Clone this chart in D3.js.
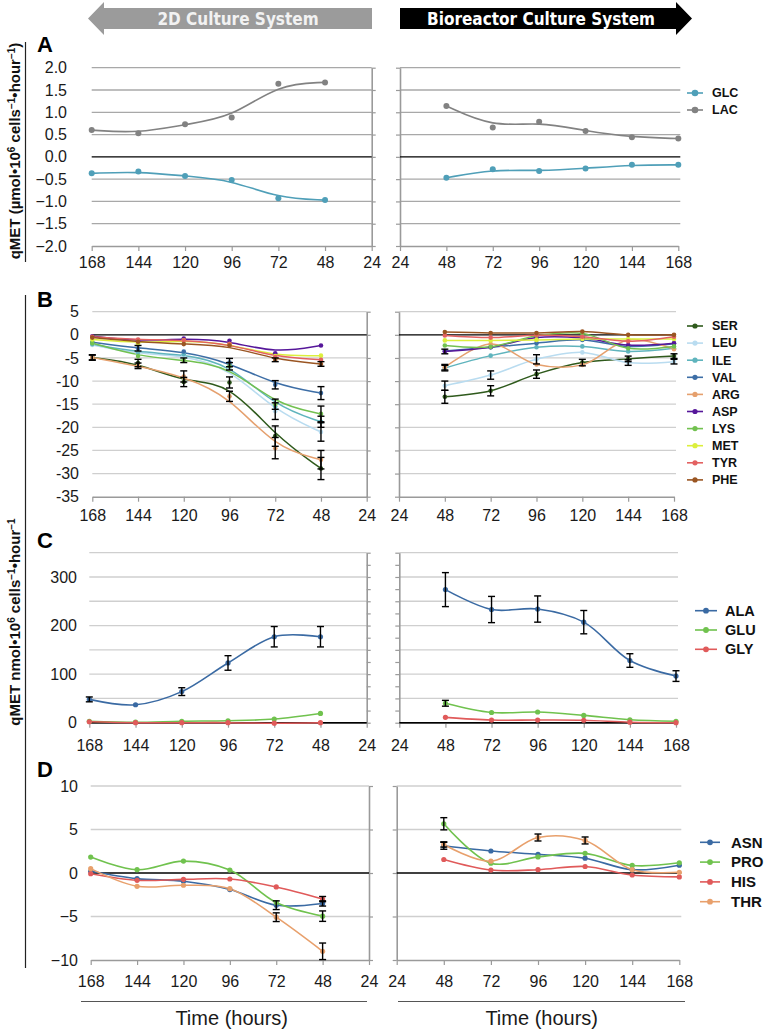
<!DOCTYPE html>
<html><head><meta charset="utf-8">
<script src="https://cdn.jsdelivr.net/npm/d3@7"></script>
<style>body{margin:0;background:#fff}svg{display:block}</style>
</head><body><svg id="c" width="766" height="1033"></svg>
<script>
// ---------- DATA ----------
const hoursL = [168, 144, 120, 96, 72, 48];   // 2D culture (left panels)
const hoursR = [48, 72, 96, 120, 144, 168];   // bioreactor (right panels)
const xTicks = [24, 48, 72, 96, 120, 144, 168];

// Panel A (µmol)
const aNames = ['GLC', 'LAC'];
const aColors = ['#4f9fb8', '#828282'];
const glcL = [-0.37, -0.33, -0.43, -0.52, -0.93, -0.97];
const glcR = [-0.47, -0.28, -0.32, -0.26, -0.18, -0.18];
const lacL = [0.60, 0.53, 0.73, 0.88, 1.64, 1.67];
const lacR = [1.14, 0.66, 0.79, 0.58, 0.44, 0.41];
const aTicks = [-2, -1.5, -1, -0.5, 0, 0.5, 1, 1.5, 2];

// Panel B (nmol)
const bNames = ['SER', 'LEU', 'ILE', 'VAL', 'ARG', 'ASP', 'LYS', 'MET', 'TYR', 'PHE'];
const bColors = ['#2f5a1c', '#b9dcf0', '#5fb4bd', '#3d6ea6', '#e5a06e', '#56179a', '#72c150', '#dcef3c', '#e36161', '#9a5522'];
const serL = [-4.9, -6.1, -10.2, -10.3, -21.9, -28.9];
const leuL = [-2.2, -4.2, -4.4, -7.2, -16.5, -21.0];
const ileL = [-2.0, -3.8, -4.2, -6.3, -15.5, -18.8];
const valL = [-1.6, -2.9, -3.6, -6.0, -10.8, -12.6];
const argL = [-4.9, -6.7, -9.0, -13.3, -24.5, -27.0];
const aspL = [-0.3, -1.4, -0.8, -1.3, -4.0, -2.3];
const lysL = [-1.8, -4.6, -5.5, -6.8, -15.0, -17.1];
const metL = [-1.0, -1.8, -1.2, -2.0, -4.6, -4.5];
const tyrL = [-0.4, -1.0, -1.2, -2.0, -4.8, -5.4];
const pheL = [-0.6, -1.5, -2.0, -2.3, -5.4, -6.3];
const serR = [-13.4, -12.1, -8.5, -6.0, -5.2, -4.6];
const leuR = [-11.0, -8.7, -5.3, -3.8, -6.0, -5.8];
const ileR = [-7.2, -4.5, -2.7, -2.5, -3.6, -2.9];
const valR = [-3.5, -2.7, -1.8, -1.1, -2.5, -1.95];
const argR = [-7.0, -2.0, -6.4, -6.5, -1.1, -3.1];
const aspR = [-3.6, -2.7, -0.6, -0.7, -2.2, -1.8];
const lysR = [-2.3, -2.6, -0.2, 0.3, -2.9, -2.5];
const metR = [-1.2, -1.2, -1.1, -0.9, -0.9, -0.9];
const tyrR = [-0.15, -0.6, -0.1, -0.4, -1.4, -0.4];
const pheR = [0.6, 0.4, 0.4, 0.7, 0.0, 0.0];
const serEL = [0.6, 0.8, 1.0, 1.2, 2.2, 2.4];
const leuEL = [0, 0, 0, 0, 1.8, 2.0];
const ileEL = [0, 0, 0, 0, 0, 1.2];
const valEL = [0, 0.6, 0, 0.9, 0.9, 1.4];
const argEL = [0.5, 0.6, 1.2, 1.1, 2.3, 2.0];
const lysEL = [0, 0, 0.5, 0.8, 1.1, 1.7];
const pheEL = [0, 0, 0, 0, 0.4, 0.5];
const serER = [1.4, 1.1, 0.9, 0.7, 0.6, 0.5];
const leuER = [1.0, 0.9, 1.0, 0, 0.6, 0.5];
const ileER = [0.6, 0, 0, 0, 0, 0];
const argER = [0.6, 0, 0, 0, 0, 0];
const aspER = [0.5, 0, 0, 0, 0, 0];
const bTicks = [-35, -30, -25, -20, -15, -10, -5, 0, 5];

// Panel C (nmol)
const cNames = ['ALA', 'GLU', 'GLY'];
const cColors = ['#3a6aa3', '#70c24e', '#e05a5a'];
const alaL = [48, 37, 64, 123, 177, 177];
const gluL = [3, 1, 3, 4, 7.5, 19];
const glyL = [2, 0, 0, 0, -1, 0];
const alaR = [274, 233, 234, 207, 128, 96];
const gluR = [40, 21, 22, 15, 6, 3];
const glyR = [11, 5.5, 5.5, 5, 1, 0];
const alaEL = [5, 0, 8, 15, 21, 21];
const alaER = [35, 27, 27, 24, 14, 11];
const gluER = [6, 0, 0, 0, 0, 0];
const cLabels = [0, 100, 200, 300];

// Panel D (nmol)
const dNames = ['ASN', 'PRO', 'HIS', 'THR'];
const dColors = ['#3a6aa3', '#70c24e', '#e05a5a', '#e8a06c'];
const asnL = [0.2, -0.65, -0.95, -1.9, -3.7, -3.5];
const proL = [1.83, 0.38, 1.37, 0.34, -3.4, -4.96];
const hisL = [-0.08, -0.84, -0.73, -0.69, -1.6, -3.0];
const thrL = [0.5, -1.53, -1.41, -1.8, -5.08, -9.0];
const asnR = [3.13, 2.53, 2.15, 1.7, 0.38, 0.9];
const proR = [5.66, 1.13, 1.85, 2.26, 0.87, 1.17];
const hisR = [1.55, 0.34, 0.38, 0.75, -0.23, -0.45];
const thrR = [3.28, 1.36, 4.08, 3.74, 0.38, 0.08];
const asnEL = [0, 0, 0, 0, 0.5, 0.3];
const proEL = [0, 0, 0, 0, 0, 0.6];
const hisEL = [0, 0, 0, 0, 0, 0.3];
const thrEL = [0, 0, 0, 0, 0.5, 0.95];
const asnER = [0.4, 0, 0, 0, 0, 0];
const proER = [0.7, 0, 0, 0, 0, 0];
const thrER = [0.3, 0, 0.4, 0.4, 0, 0];
const dTicks = [-10, -5, 0, 5, 10];

// ---------- DRAWING ----------
const svg = d3.select('#c');
const FONT = '"Liberation Sans", Arial, Helvetica, sans-serif';
const Z = Array(6).fill(0);
const smoothCurve = d3.curveCatmullRom.alpha(0.5);
const trendCurve = d3.curveBasis;

function drawPanel(p) {
  const y = d3.scaleLinear().domain(p.yDom).range([p.yBot, p.yTop]);
  const gridVals = d3.range(p.yDom[0], p.yDom[1] + 1e-9, p.grid);
  p.sides.forEach(s => {
    const left = s.dir === 'L';
    const hrs = left ? hoursL : hoursR;
    const x = d3.scaleLinear().domain(left ? [168, 24] : [24, 168]).range([s.x0, s.x1]);
    const g = svg.append('g');
    g.selectAll('line.grid').data(gridVals.filter(v => v !== 0 && v !== p.yDom[0])).join('line')
      .attr('x1', s.x0).attr('x2', s.x1 + (left ? 0 : 2))
      .attr('y1', d => y(d)).attr('y2', d => y(d))
      .attr('stroke', p.gridColor).attr('stroke-width', 1.3);
    const tv = p.minor ? d3.range(p.yDom[0], p.yDom[1] + 1e-9, p.minor) : gridVals;
    g.append('g').attr('transform', `translate(${x(24)},0)`)
      .call((left ? d3.axisRight(y) : d3.axisLeft(y)).tickValues(tv).tickSize(4).tickSizeOuter(0).tickFormat(''))
      .call(a => { a.select('.domain').attr('stroke', '#9a9a9a').attr('stroke-width', 1.6);
                   a.selectAll('.tick line').attr('stroke', '#9a9a9a').attr('stroke-width', 1.2); });
    g.append('g').attr('transform', `translate(0,${y(p.yDom[0])})`)
      .call(d3.axisBottom(x).tickValues(xTicks).tickSize(5).tickSizeOuter(0).tickPadding(p.xPad).tickFormat(d3.format('d')))
      .call(a => { a.select('.domain').attr('stroke', '#9a9a9a').attr('stroke-width', 1.6);
                   a.selectAll('.tick line').attr('stroke', '#9a9a9a').attr('stroke-width', 1.2);
                   a.selectAll('text').attr('font-size', 16).attr('font-family', FONT).attr('fill', '#1a1a1a'); });
    g.append('line').attr('x1', s.x0).attr('x2', s.x1 + (left ? 0 : 2)).attr('y1', y(0)).attr('y2', y(0))
      .attr('stroke', '#000').attr('stroke-width', 1.4);
    if (left) {
      g.append('g').attr('transform', `translate(${p.labelX},0)`)
        .call(d3.axisLeft(y).tickValues(p.labels).tickSize(0).tickPadding(0).tickFormat(p.fmt))
        .call(a => { a.select('.domain').remove();
                     a.selectAll('text').attr('font-size', 16).attr('font-family', FONT).attr('fill', '#1a1a1a'); });
    }
    const curve = (left ? p.curveL : p.curveR) || smoothCurve;
    const line = d3.line().x(d => x(d.h)).y(d => y(d.v)).curve(curve);
    const all = p.series.map(se => hrs.map((h, i) => ({ h, v: (left ? se.L : se.R)[i], e: (left ? se.eL : se.eR)[i], c: se.color })));
    all.forEach(pts => {
      g.append('path').datum(pts).attr('d', line).attr('fill', 'none')
        .attr('stroke', pts[0].c).attr('stroke-width', p.lw);
    });
    all.forEach(pts => {
      g.selectAll(null).data(pts).join('circle')
        .attr('cx', d => x(d.h)).attr('cy', d => y(d.v)).attr('r', p.r).attr('fill', d => d.c);
    });
    const eb = all.flat().filter(d => d.e > 0);
    const eg = g.selectAll(null).data(eb).join('g').attr('stroke', '#000').attr('stroke-width', 1.4);
    eg.append('line').attr('x1', d => x(d.h)).attr('x2', d => x(d.h)).attr('y1', d => y(d.v - d.e)).attr('y2', d => y(d.v + d.e));
    eg.append('line').attr('x1', d => x(d.h) - 3.5).attr('x2', d => x(d.h) + 3.5).attr('y1', d => y(d.v - d.e)).attr('y2', d => y(d.v - d.e));
    eg.append('line').attr('x1', d => x(d.h) - 3.5).attr('x2', d => x(d.h) + 3.5).attr('y1', d => y(d.v + d.e)).attr('y2', d => y(d.v + d.e));
  });
  const L = p.legend;
  const lg = svg.append('g').selectAll(null).data(p.series).join('g')
    .attr('transform', (d, i) => `translate(0,${L.y0 + i * L.dy})`);
  lg.append('line').attr('x1', L.lx0).attr('x2', L.lx1).attr('stroke', d => d.color).attr('stroke-width', 1.6);
  lg.append('circle').attr('cx', (L.lx0 + L.lx1) / 2).attr('r', p.r + 0.3).attr('fill', d => d.color);
  lg.append('text').attr('x', L.tx).attr('dy', '0.35em').attr('font-size', L.fs).attr('font-weight', 'bold')
    .attr('font-family', FONT).attr('fill', '#111').text(d => d.name);
  svg.append('text').attr('x', p.letter[1]).attr('y', p.letter[2]).attr('font-size', 22).attr('font-weight', 'bold')
    .attr('font-family', FONT).text(p.letter[0]);
}

function mk(names, colors, Ls, Rs, eLs, eRs) {
  return names.map((n, i) => ({ name: n, color: colors[i], L: Ls[i], R: Rs[i], eL: eLs[i] || Z, eR: eRs[i] || Z }));
}

drawPanel({
  yDom: [-2, 2], yTop: 67.7, yBot: 246, grid: 0.5, labels: aTicks, fmt: d3.format('.1f'),
  labelX: 67, xPad: 5.6, gridColor: '#a8a8a8', lw: 1.6, r: 3, curveL: trendCurve, curveR: trendCurve,
  sides: [{ dir: 'L', x0: 91.7, x1: 371.7 }, { dir: 'R', x0: 400, x1: 678.3 }],
  series: mk(aNames, aColors, [glcL, lacL], [glcR, lacR], [], []),
  legend: { lx0: 687, lx1: 703, tx: 712, y0: 93, dy: 17, fs: 12.5 },
  letter: ['A', 37, 52]
});
drawPanel({
  yDom: [-35, 5], yTop: 311.7, yBot: 496.7, grid: 5, labels: bTicks, fmt: d => String(d),
  labelX: 79, xPad: 8, gridColor: '#cfcfcf', lw: 1.5, r: 2.3, curveL: trendCurve,
  sides: [{ dir: 'L', x0: 92.3, x1: 366.7 }, { dir: 'R', x0: 399, x1: 674 }],
  series: mk(bNames, bColors, [serL, leuL, ileL, valL, argL, aspL, lysL, metL, tyrL, pheL],
             [serR, leuR, ileR, valR, argR, aspR, lysR, metR, tyrR, pheR],
             [serEL, leuEL, ileEL, valEL, argEL, null, lysEL, null, null, pheEL],
             [serER, leuER, ileER, null, argER, aspER]),
  legend: { lx0: 687, lx1: 703, tx: 712, y0: 326, dy: 17.1, fs: 12.5 },
  letter: ['B', 37, 307]
});
drawPanel({
  yDom: [0, 350], yTop: 552.7, yBot: 722.7, grid: 50, minor: 25, labels: cLabels, fmt: d3.format('d'),
  labelX: 77, xPad: 11.6, gridColor: '#cfcfcf', lw: 1.6, r: 2.6, curveL: d3.curveCatmullRom.alpha(0),
  sides: [{ dir: 'L', x0: 89.3, x1: 366.7 }, { dir: 'R', x0: 399.3, x1: 676 }],
  series: mk(cNames, cColors, [alaL, gluL, glyL], [alaR, gluR, glyR], [alaEL], [alaER, gluER]),
  legend: { lx0: 695, lx1: 717, tx: 725, y0: 610.7, dy: 19.3, fs: 14.5 },
  letter: ['C', 37, 548]
});
drawPanel({
  yDom: [-10, 10], yTop: 786, yBot: 960, grid: 5, labels: dTicks, fmt: d3.format('d'),
  labelX: 78, xPad: 10.3, gridColor: '#cfcfcf', lw: 1.6, r: 2.6,
  sides: [{ dir: 'L', x0: 90.7, x1: 369 }, { dir: 'R', x0: 396.7, x1: 679.3 }],
  series: mk(dNames, dColors, [asnL, proL, hisL, thrL], [asnR, proR, hisR, thrR],
             [asnEL, proEL, hisEL, thrEL], [asnER, proER, null, thrER]),
  legend: { lx0: 700, lx1: 720, tx: 731, y0: 842.3, dy: 19.8, fs: 15 },
  letter: ['D', 37, 777]
});

// ---------- header arrows ----------
svg.append('path').attr('d', 'M88,18.5 L104,2 L104,8 L372,8 L372,29 L104,29 L104,35 Z').attr('fill', '#9b9b9b');
svg.append('path').attr('d', 'M400,8 L676,8 L676,2 L692,18.5 L676,35 L676,29 L400,29 Z').attr('fill', '#000');
const hdrFont = '"Liberation Sans Narrow", "Arial Narrow", "DejaVu Sans Condensed", sans-serif';
svg.append('text').attr('x', 238).attr('y', 24.5).attr('text-anchor', 'middle').attr('font-size', 17)
  .attr('font-weight', 'bold').attr('font-family', hdrFont).attr('fill', '#f2f2f2').text('2D Culture System');
svg.append('text').attr('x', 541).attr('y', 24.5).attr('text-anchor', 'middle').attr('font-size', 17)
  .attr('font-weight', 'bold').attr('font-family', hdrFont).attr('fill', '#fff').text('Bioreactor Culture System');

// ---------- y-axis titles ----------
function yTitle(cx, cy, parts) {
  const t = svg.append('text').attr('transform', `translate(${cx},${cy}) rotate(-90)`).attr('text-anchor', 'middle')
    .attr('font-size', 15).attr('font-weight', 'bold').attr('font-family', FONT).attr('fill', '#111');
  let prevSup = false;
  parts.forEach(([s, sup]) => {
    const dy = sup ? (prevSup ? 0 : -5) : (prevSup ? 5 : 0);
    t.append('tspan').attr('dy', dy).attr('font-size', sup ? 10 : 15).text(s);
    prevSup = !!sup;
  });
}
yTitle(20, 151, [['qMET (µmol•10'], ['6', 1], [' cells'], ['−1', 1], ['•hour'], ['−1', 1], [')']]);
yTitle(20, 622, [['qMET nmol•10'], ['6', 1], [' cells'], ['−1', 1], ['•hour'], ['−1', 1]]);
svg.append('line').attr('x1', 25.5).attr('x2', 25.5).attr('y1', 42).attr('y2', 262).attr('stroke', '#222').attr('stroke-width', 1.2);
svg.append('line').attr('x1', 25.5).attr('x2', 25.5).attr('y1', 295).attr('y2', 968).attr('stroke', '#222').attr('stroke-width', 1.2);

// ---------- time axis titles ----------
[[81, 367, 231.7], [398, 685, 541.7]].forEach(([a, b, c]) => {
  svg.append('line').attr('x1', a).attr('x2', b).attr('y1', 1001.5).attr('y2', 1001.5).attr('stroke', '#555').attr('stroke-width', 1.2);
  svg.append('text').attr('x', c).attr('y', 1025).attr('text-anchor', 'middle').attr('font-size', 20)
    .attr('font-family', FONT).attr('fill', '#1a1a1a').text('Time (hours)');
});
</script></body></html>
